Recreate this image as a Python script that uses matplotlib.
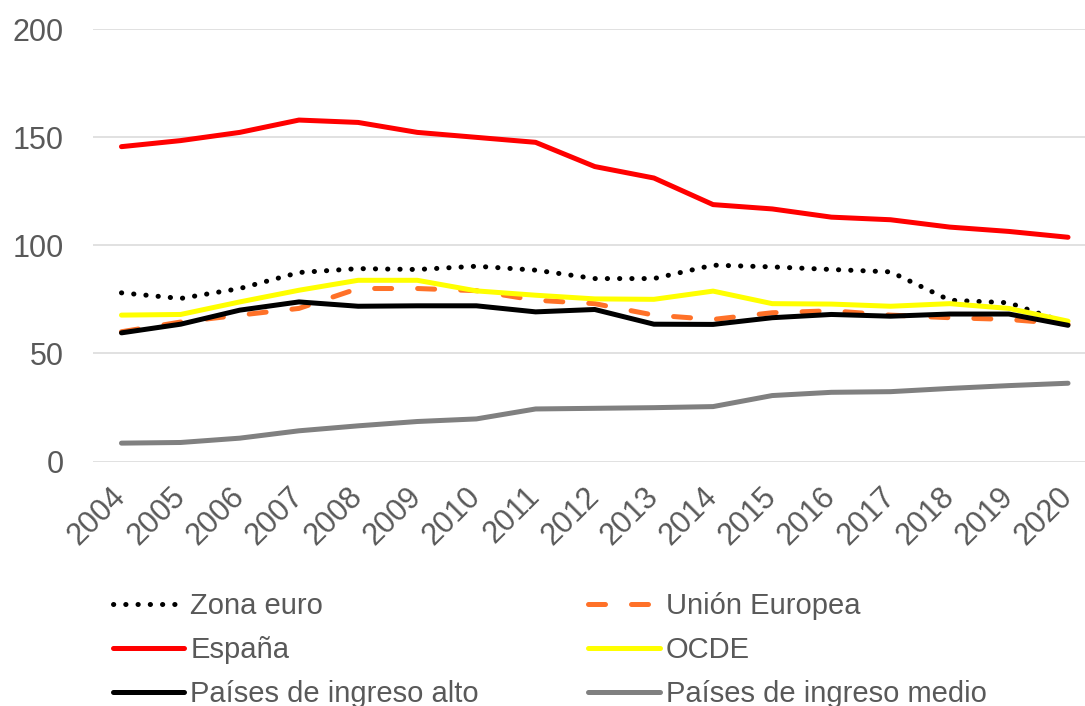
import matplotlib.pyplot as plt
import numpy as np

plt.rcParams['font.family'] = ['Liberation Sans', 'DejaVu Sans']

# years on the category axis
years = [str(y) for y in range(2004, 2021)]

# series values
zona_euro = [78.0, 75.4, 80.0, 87.4, 89.2, 88.8, 90.3, 88.5, 84.6, 84.6,
             90.8, 90.0, 88.8, 87.7, 74.6, 73.4, 63.8]
union_europea = [60.0, 64.5, 67.7, 70.8, 80.0, 80.0, 79.0, 74.6, 73.0, 67.7,
                 65.7, 68.8, 69.7, 67.7, 66.5, 65.7, 63.5]
espana = [145.6, 148.4, 152.2, 157.9, 156.8, 152.2, 149.9, 147.6, 136.4, 131.1,
          118.8, 116.8, 113.0, 111.8, 108.4, 106.4, 103.7]
ocde = [67.7, 68.0, 73.8, 79.2, 83.8, 83.8, 78.9, 76.9, 75.2, 75.0,
        78.8, 73.0, 72.8, 71.8, 73.0, 70.8, 64.9]
ingreso_alto = [59.5, 63.5, 70.0, 73.8, 71.8, 72.0, 72.0, 69.2, 70.3, 63.5,
                63.4, 66.5, 68.0, 67.2, 68.2, 68.2, 63.0]
ingreso_medio = [8.5, 8.8, 10.8, 14.2, 16.5, 18.5, 19.7, 24.3, 24.6, 24.9,
                 25.4, 30.5, 32.0, 32.3, 33.8, 35.1, 36.2]

text_color = '#595959'
lw = 3.6

fig = plt.figure(figsize=(10.85, 7.06), dpi=100)
ax = fig.add_axes([0.0854, 0.3463, 0.9146, 0.6126])

x = np.arange(len(years))

l_ze, = ax.plot(x, zona_euro, color='black', lw=lw,
                linestyle=(0, (0.05, 2.4)), dash_capstyle='round',
                label='Zona euro')
l_ue, = ax.plot(x, union_europea, color='#FF7128', lw=lw,
                linestyle=(0, (3.4, 5.2)), dash_capstyle='round',
                label='Unión Europea')
l_es, = ax.plot(x, espana, color='#FF0000', lw=lw, solid_capstyle='round',
                label='España')
l_oc, = ax.plot(x, ocde, color='#FFFF00', lw=lw, solid_capstyle='round',
                label='OCDE')
l_al, = ax.plot(x, ingreso_alto, color='black', lw=lw, solid_capstyle='round',
                label='Países de ingreso alto')
l_me, = ax.plot(x, ingreso_medio, color='#808080', lw=lw,
                solid_capstyle='round', label='Países de ingreso medio')

ax.set_xlim(-0.487, 16.287)
ax.set_ylim(0, 200)
ax.set_yticks([0, 50, 100, 150, 200])
ax.set_xticks(x)
ax.set_xticklabels(years, rotation=45, ha='right', va='center',
                   rotation_mode='anchor')

ax.grid(axis='y', color='#D9D9D9', lw=1.1)
ax.set_axisbelow(True)
for s in ax.spines.values():
    s.set_visible(False)
ax.tick_params(axis='both', length=0, labelsize=22, colors=text_color)
ax.tick_params(axis='y', pad=21)
ax.tick_params(axis='x', pad=22)

# two columns, filled row by row
handles = [l_ze, l_es, l_al, l_ue, l_oc, l_me]
fig.legend(handles, [h.get_label() for h in handles], ncol=2,
           loc='upper left', bbox_to_anchor=(113 / 1085, 1 - 592 / 706),
           frameon=False, fontsize=21, labelcolor=text_color,
           handlelength=2.45, handletextpad=0.2, borderpad=0,
           borderaxespad=0, labelspacing=0.55, columnspacing=3.75)

plt.savefig('out.png', dpi=100)
